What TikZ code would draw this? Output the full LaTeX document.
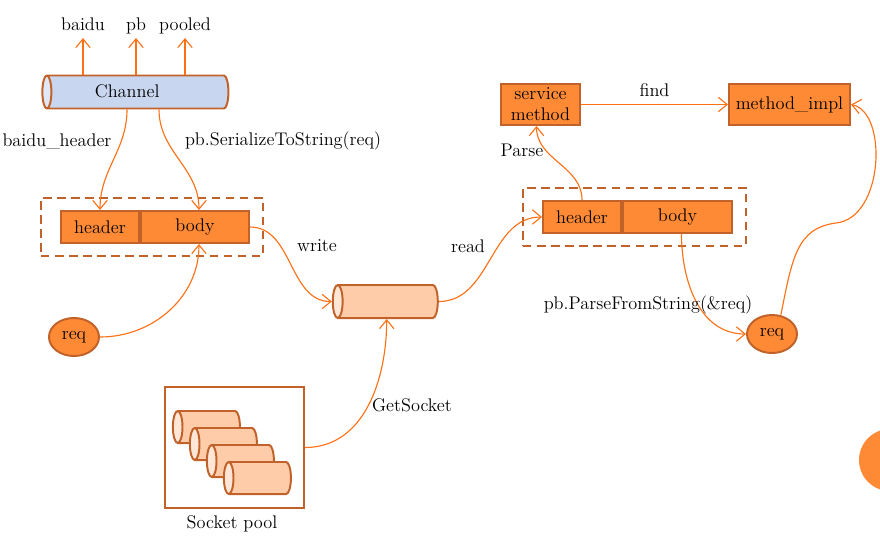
\documentclass[tikz,border=0pt]{standalone}
\usepackage{fontspec}
\usetikzlibrary{shapes.geometric}
\usetikzlibrary{arrows.meta}
\usetikzlibrary{positioning}
\usetikzlibrary{fit}
\usetikzlibrary{calc}

\definecolor{edgebrown}{RGB}{192,98,42}
\definecolor{boxorange}{RGB}{255,138,54}
\definecolor{linkorange}{RGB}{255,112,20}
\definecolor{chanblue}{RGB}{200,214,240}
\definecolor{chanend}{RGB}{224,232,247}
\definecolor{sockpeach}{RGB}{255,204,170}
\definecolor{sockend}{RGB}{255,230,214}

\tikzset{
  field/.style={rectangle, draw=edgebrown, fill=boxorange, line width=1.4pt, minimum height=0.8cm, inner sep=0pt},
  reqnode/.style={ellipse, draw=edgebrown, fill=boxorange, line width=1.4pt, minimum width=1.25cm, minimum height=0.95cm, inner sep=0pt},
  pipe/.style={cylinder, shape border rotate=180, shape aspect=0.3, draw=edgebrown, line width=1.4pt, cylinder uses custom fill,
    inner xsep=0pt, inner ysep=0.41cm, text height=0pt, text depth=0pt, xshift=0.13cm},
  link/.style={draw=linkorange, line width=0.8pt, -{Straight Barb[length=2.2mm,width=3.6mm]}},
  frame/.style={draw=edgebrown, line width=1.4pt, dash pattern=on 6pt off 4pt},
  toplbl/.style={anchor=base, text depth=0pt, inner sep=1pt}
}

\begin{document}
\begin{tikzpicture}[x=0.025cm, y=0.025cm, font=\fontsize{13}{15}\selectfont]

\useasboundingbox (0,0) rectangle (880,-549);
\clip (0,0) rectangle (880,-549);

% sending side
\node[pipe, minimum height=4.65cm, minimum width=0.825cm, text height=1.65ex, text depth=0pt, inner ysep=0.25cm,
  cylinder body fill=chanblue, cylinder end fill=chanend] (chan) at (135,-92) {Channel\hspace*{0.65cm}};
\node[toplbl] (baidu) at (83,-30) {baidu};
\node[toplbl] (pbout) at (136,-30) {pb};
\node[toplbl] (pooled) at (185,-30) {pooled};
\foreach \t in {baidu, pbout, pooled}
  \draw[link, shorten >=4.5pt] (\t |- chan.north) -- (\t.south);

\node[field, minimum width=1.95cm] (hdrL) at (100,-227) {header};
\node[field, minimum width=2.7cm, right=0pt of hdrL] (bodyL) {body};
\node[frame, fit=(hdrL)(bodyL), inner xsep=0.4cm, inner ysep=0.31cm, xshift=-0.075cm] (msgL) {};

\draw[link] ([xshift=-0.33cm]chan.south) to[out=-90, in=90] (hdrL.north);
\draw[link] ([xshift=0.47cm]chan.south) to[out=-90, in=90] ([xshift=0.1cm]bodyL.north);
\node (hdrlbl) at (57,-141) {baidu\_header};
\node (serlbl) at (283,-141) {pb.SerializeToString(req)};

\node[reqnode] (reqL) at (74,-337) {req};
\draw[link] (reqL.east) to[out=0, in=-90] ([xshift=0.1cm]bodyL.south);

% socket
\node[pipe, minimum height=2.625cm, minimum width=0.825cm, cylinder body fill=sockpeach, cylinder end fill=sockend] (sock) at (385.5,-301.5) {};
\draw[link] (bodyL.east) to[out=0, in=180] (sock.west);
\node (writelbl) at (317,-246) {write};

\node[draw=edgebrown, line width=1.4pt, minimum width=3.475cm, minimum height=3.025cm] (pool) at (234.5,-447.5) {};
\foreach \i in {0,...,3}
  \node[pipe, minimum height=1.675cm, minimum width=0.8cm, inner ysep=0.4cm, cylinder body fill=sockpeach, cylinder end fill=sockend] (pool\i) at (206.5+17*\i, -427-17*\i) {};
\node (poollbl) at (232,-524) {Socket pool};
\draw[link] (pool.east) to[out=0, in=-90] ([xshift=-0.1cm]sock.south);
\node (getlbl) at (412,-405) {GetSocket};

% receiving side
\node[field, minimum width=1.95cm] (hdrR) at (582,-217) {header};
\node[field, minimum width=2.725cm, right=0pt of hdrR] (bodyR) {body};
\node[frame, fit=(hdrR)(bodyR), inner xsep=0.4cm, inner ysep=0.31cm, xshift=-0.075cm] (msgR) {};
\draw[link] (sock.east) to[out=0, in=180] (hdrR.west);
\node (readlbl) at (468,-246) {read};

\node[field, minimum width=1.975cm, minimum height=1.025cm, align=center] (svc) at (540.5,-104.5) {service\\method};
\node[field, minimum width=3.025cm, minimum height=1.025cm] (impl) at (789.5,-104.5) {method\_impl};
\draw[link] (svc.east) -- (impl.west) node[midway, above=2pt] (findlbl) {find};
\draw[link] (hdrR.north) to[out=90, in=-90] ([xshift=-0.1cm]svc.south);
\node (parselbl) at (522,-150) {Parse};

\node[reqnode] (reqR) at (772,-334) {req};
\draw[link] ([xshift=0.1cm]bodyR.south) to[out=-90, in=180] (reqR.west);
\node (parsefromlbl) at (648,-305) {pb.ParseFromString(\&req)};
\draw[link] (reqR.65) .. controls (792,-260) and (796,-228) .. (836,-223)
  .. controls (884,-218) and (888,-112) .. (impl.east);

\fill[boxorange] (890,-460) circle (31);

\end{tikzpicture}
\end{document}
